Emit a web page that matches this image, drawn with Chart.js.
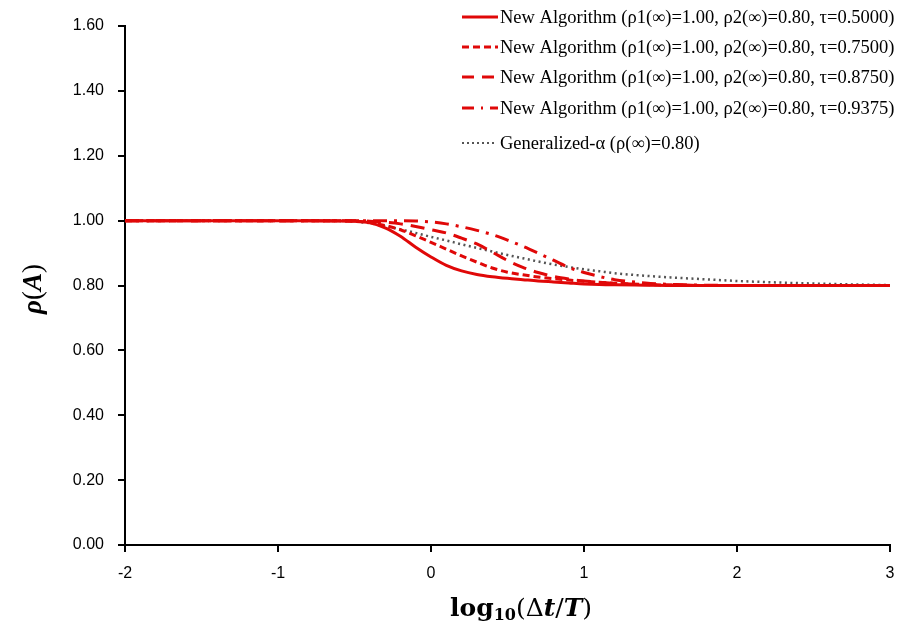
<!DOCTYPE html>
<html>
<head>
<meta charset="utf-8">
<script src="https://cdn.jsdelivr.net/npm/chart.js@4.4.1/dist/chart.umd.min.js"></script>
<style>
  html, body { margin: 0; padding: 0; background: #fff; }
  #grafica { display: block; }
</style>
</head>
<body>
<canvas id="grafica" width="900" height="629"></canvas>
<script>
// Valores del eje x (log10(dt/T))
const xVals = [-2, -1.5, -1, -0.8, -0.6, -0.5, -0.4, -0.3, -0.2, -0.1, 0, 0.1, 0.2, 0.3, 0.4, 0.5,
               0.6, 0.7, 0.8, 0.9, 1.0, 1.1, 1.2, 1.4, 1.6, 1.8, 2.0, 2.5, 3.0];

// Radio espectral
const rhoTau05000 = [1, 1, 1, 1, 0.999, 0.998, 0.993, 0.978, 0.952, 0.918, 0.888, 0.862, 0.845, 0.834, 0.827, 0.822,
                     0.818, 0.814, 0.811, 0.808, 0.805, 0.803, 0.802, 0.801, 0.800, 0.800, 0.800, 0.800, 0.800];
const rhoTau07500 = [1, 1, 1, 1, 1.0, 0.998, 0.994, 0.985, 0.972, 0.953, 0.933, 0.912, 0.891, 0.872, 0.854, 0.841,
                     0.833, 0.826, 0.821, 0.817, 0.813, 0.810, 0.807, 0.803, 0.801, 0.800, 0.800, 0.800, 0.800];
const rhoTau08750 = [1, 1, 1, 1, 1.0, 1.0, 0.998, 0.995, 0.990, 0.982, 0.972, 0.962, 0.946, 0.928, 0.903, 0.877,
                     0.856, 0.840, 0.828, 0.820, 0.814, 0.810, 0.807, 0.803, 0.801, 0.800, 0.800, 0.800, 0.800];
const rhoTau09375 = [1, 1, 1, 1, 1.0, 1.0, 1.0, 1.0, 1.0, 0.999, 0.996, 0.990, 0.981, 0.970, 0.957, 0.940,
                     0.921, 0.900, 0.878, 0.856, 0.840, 0.828, 0.818, 0.808, 0.803, 0.801, 0.800, 0.800, 0.800];
const rhoGenAlpha = [1, 1, 1, 1.0, 0.999, 0.997, 0.992, 0.983, 0.973, 0.962, 0.950, 0.939, 0.927, 0.916, 0.905, 0.894,
                     0.884, 0.874, 0.865, 0.857, 0.850, 0.844, 0.838, 0.830, 0.824, 0.819, 0.814, 0.806, 0.801];

const etiquetas = [
  'New Algorithm (ρ1(∞)=1.00, ρ2(∞)=0.80, τ=0.5000)',
  'New Algorithm (ρ1(∞)=1.00, ρ2(∞)=0.80, τ=0.7500)',
  'New Algorithm (ρ1(∞)=1.00, ρ2(∞)=0.80, τ=0.8750)',
  'New Algorithm (ρ1(∞)=1.00, ρ2(∞)=0.80, τ=0.9375)',
  'Generalized-α (ρ(∞)=0.80)'
];

const xTicks = [-2, -1, 0, 1, 2, 3];
const yTicks = [0, 0.2, 0.4, 0.6, 0.8, 1.0, 1.2, 1.4, 1.6];

const rojo = 'rgb(224, 8, 8)';
const gris = '#555555';

function puntos(ys) {
  return xVals.map((x, i) => ({ x: x, y: ys[i] }));
}

const series = [
  { datos: rhoTau05000, color: rojo, dash: [], ancho: 3 },
  { datos: rhoTau07500, color: rojo, dash: [7, 4], ancho: 3 },
  { datos: rhoTau08750, color: rojo, dash: [14, 8], ancho: 3 },
  { datos: rhoTau09375, color: rojo, dash: [14, 7, 3, 7], ancho: 3 },
  { datos: rhoGenAlpha, color: gris, dash: [2, 3.5], ancho: 2.5 }
];

// Leyenda y títulos de ejes dibujados a mano
const extrasPlugin = {
  id: 'extras',
  afterDraw(chart) {
    const ctx = chart.ctx;
    ctx.save();

    // Leyenda
    const filas = [17, 47, 77, 108, 143];
    const muestras = [[], [7, 4], [12, 8], [12, 7, 2, 7], [2, 3]];
    ctx.font = '18.5px "Liberation Serif", "Times New Roman", serif';
    ctx.textBaseline = 'middle';
    ctx.fillStyle = '#000';
    series.forEach((s, i) => {
      const y = filas[i];
      ctx.beginPath();
      ctx.strokeStyle = s.color;
      ctx.lineWidth = i === 4 ? 2 : 3;
      ctx.setLineDash(muestras[i]);
      ctx.moveTo(462, y);
      ctx.lineTo(i === 4 ? 494 : 498, y);
      ctx.stroke();
      ctx.setLineDash([]);
      ctx.fillText(etiquetas[i], 500, y + 1);
    });

    // Título eje x: log10(Δt/T)
    const serifX = '"DejaVu Serif", serif';
    const partes = [
      { t: 'log', f: 'bold 25px ' + serifX, dy: 0 },
      { t: '10', f: 'bold 16px ' + serifX, dy: 4 },
      { t: '(Δ', f: '25px ' + serifX, dy: 0 },
      { t: 't', f: 'italic bold 25px ' + serifX, dy: 0 },
      { t: '/', f: '25px ' + serifX, dy: 0 },
      { t: 'T', f: 'italic bold 25px ' + serifX, dy: 0 },
      { t: ')', f: '25px ' + serifX, dy: 0 }
    ];
    let total = 0;
    partes.forEach(p => { ctx.font = p.f; p.w = ctx.measureText(p.t).width; total += p.w; });
    let xx = 521 - total / 2;
    ctx.textBaseline = 'alphabetic';
    ctx.textAlign = 'left';
    partes.forEach(p => {
      ctx.font = p.f;
      ctx.fillText(p.t, xx, 616 + p.dy);
      xx += p.w;
    });

    // Título eje y: ρ(A)
    ctx.translate(41, 289);
    ctx.rotate(-Math.PI / 2);
    const partesY = [
      { t: 'ρ', f: 'italic bold 27px "Liberation Serif", serif' },
      { t: '(', f: '27px "Liberation Serif", serif' },
      { t: 'A', f: 'italic bold 27px "Liberation Serif", serif' },
      { t: ')', f: '27px "Liberation Serif", serif' }
    ];
    total = 0;
    partesY.forEach(p => { ctx.font = p.f; p.w = ctx.measureText(p.t).width; total += p.w; });
    xx = -total / 2;
    partesY.forEach(p => {
      ctx.font = p.f;
      ctx.fillText(p.t, xx, 0);
      xx += p.w;
    });

    ctx.restore();
  }
};

const ctx = document.getElementById('grafica').getContext('2d');
new Chart(ctx, {
  type: 'line',
  data: {
    datasets: series.map((s, i) => ({
      label: etiquetas[i],
      data: puntos(s.datos),
      borderColor: s.color,
      borderWidth: s.ancho,
      borderDash: s.dash,
      pointRadius: 0,
      fill: false,
      cubicInterpolationMode: 'monotone'
    }))
  },
  options: {
    responsive: false,
    animation: false,
    layout: { padding: { left: 0, right: 10, top: 26, bottom: 0 } },
    plugins: {
      legend: { display: false },
      tooltip: { enabled: false }
    },
    scales: {
      x: {
        type: 'linear',
        min: -2,
        max: 3,
        afterFit: (scale) => { scale.height = 84; scale.paddingRight = 0; scale.paddingLeft = 0; },
        afterBuildTicks: (scale) => { scale.ticks = xTicks.map(v => ({ value: v })); },
        ticks: {
          padding: 12,
          color: '#000',
          font: { family: '"Liberation Sans", Arial, sans-serif', size: 16 },
          callback: (v) => String(v)
        },
        grid: { drawOnChartArea: false, drawTicks: true, tickLength: 7, color: '#000', lineWidth: 2 },
        border: { display: true, color: '#000', width: 2 }
      },
      y: {
        min: 0,
        max: 1.6,
        afterFit: (scale) => { scale.width = 125; },
        afterBuildTicks: (scale) => { scale.ticks = yTicks.map(v => ({ value: v })); },
        ticks: {
          padding: 14,
          color: '#000',
          font: { family: '"Liberation Sans", Arial, sans-serif', size: 16 },
          callback: (v) => Number(v).toFixed(2)
        },
        grid: { drawOnChartArea: false, drawTicks: true, tickLength: 7, color: '#000', lineWidth: 2 },
        border: { display: true, color: '#000', width: 2 }
      }
    }
  },
  plugins: [extrasPlugin]
});
</script>
</body>
</html>
